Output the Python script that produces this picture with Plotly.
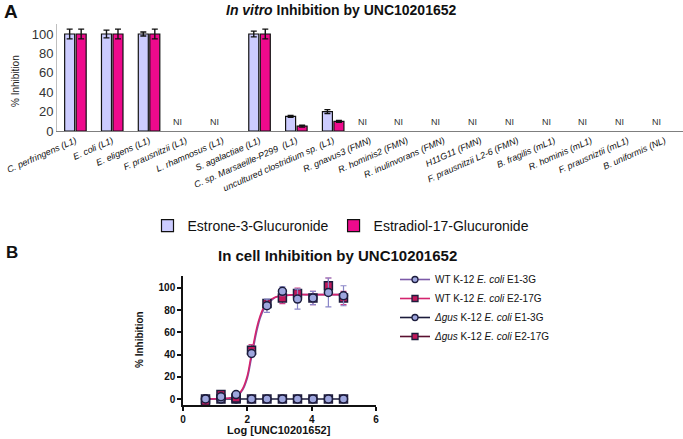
import plotly.graph_objects as go

W, H = 683, 439

# ---------------- Panel A data ----------------
categories = [
    "C. perfringens (L1)", "E. coli (L1)", "E. eligens (L1)", "F. prausnitzii (L1)",
    "L. rhamnosus (L1)", "S. agalactiae (L1)", "C. sp. Marsaeille-P299  (L1)",
    "uncultured clostridium sp. (L1)", "R. gnavus3 (FMN)", "R. hominis2 (FMN)",
    "R. inulinvorans (FMN)", "H11G11 (FMN)", "F. prausnitzii L2-6 (FMN)",
    "B. fragilis (mL1)", "R. hominis (mL1)", "F. prausniztii (mL1)", "B. uniformis (NL)",
]
estrone = [100, 100, 100, None, None, 100, 15, 20, None, None, None, None, None, None, None, None, None]
estrone_err = [5, 4, 2, 0, 0, 3, 1, 2, 0, 0, 0, 0, 0, 0, 0, 0, 0]
estradiol = [100, 100, 100, None, None, 100, 5, 10, None, None, None, None, None, None, None, None, None]
estradiol_err = [5, 5, 5, 0, 0, 5, 1, 1, 0, 0, 0, 0, 0, 0, 0, 0, 0]
ni_categories = [c for c, a, b in zip(categories, estrone, estradiol) if a is None and b is None]

# ---------------- Panel B data ----------------
log_conc = [0.70, 1.18, 1.65, 2.13, 2.61, 3.09, 3.56, 4.04, 4.52, 4.99]
wt_e1 = [0, 2, 4, 41, 84, 97, 90, 91, 96, 93]
wt_e1_err = [1, 1, 1, 3, 6, 4, 9, 6, 13, 9]
wt_e2 = [-2, 4, 1, 44, 86, 91, 95, 91, 102, 91]
wt_e2_err = [1, 1, 1, 5, 3, 5, 5, 6, 7, 6]
dgus_e1 = [0, 0, 0, 0, 0, 0, 0, 0, 0, 0]
dgus_e2 = [0, 0, 0, 0, 0, 0, 0, 0, 0, 0]

fit_x = [0.7, 1.2, 1.5, 1.7, 1.85, 2.0, 2.1, 2.2, 2.3, 2.4, 2.5, 2.6, 2.75, 2.9, 3.1, 3.5, 4.0, 5.0]
fit_wt_e1 = [0, 0.3, 1, 3, 8, 19, 33, 48, 62, 73, 80, 85, 89, 92, 93, 94, 94, 94]
fit_wt_e2 = [0, 0.4, 1.2, 3.5, 9, 21, 36, 51, 65, 75, 82, 87, 90, 92, 93, 94, 94, 94]
fit_dgus = [0, 0, 0, 0, 0, 0, 0, 0, 0, 0, 0, 0, 0, 0, 0, 0, 0, 0]

# colours
C_EST = "#ccccff"
C_ESD = "#ee0a8c"
C_PURPLE = "#7c5aa8"
C_MAG = "#d4246e"
C_CIRC = "#9ea6de"
C_SQ = "#c2185b"
C_DARK = "#1c1c3c"

fig = go.Figure()

# ---- Panel A bars ----
fig.add_trace(go.Bar(
    x=categories, y=estrone, name="Estrone-3-Glucuronide",
    marker=dict(color=C_EST, line=dict(color="#111111", width=1.2)),
    error_y=dict(type="data", array=estrone_err, color="#111111", thickness=1.4, width=3),
    xaxis="x", yaxis="y", legend="legend",
))
fig.add_trace(go.Bar(
    x=categories, y=estradiol, name="Estradiol-17-Glucuronide",
    marker=dict(color=C_ESD, line=dict(color="#111111", width=1.2)),
    error_y=dict(type="data", array=estradiol_err, color="#111111", thickness=1.4, width=3),
    xaxis="x", yaxis="y", legend="legend",
))

# ---- Panel B: fitted curves ----
for yy, col in [(fit_dgus, C_DARK), (fit_wt_e1, C_PURPLE), (fit_wt_e2, C_MAG)]:
    fig.add_trace(go.Scatter(
        x=fit_x, y=yy, mode="lines", line=dict(color=col, width=1.6, shape="spline"),
        showlegend=False, hoverinfo="skip", xaxis="x2", yaxis="y2",
    ))

# ---- Panel B: data points ----
def pts(y, err, sym, fill, errcol, name):
    e = dict(type="data", array=err, color=errcol, thickness=1.2, width=3) if err else None
    return go.Scatter(
        x=log_conc, y=y, mode="markers", name=name, showlegend=False,
        marker=dict(symbol=sym, size=8, color=fill, line=dict(color=C_DARK, width=1.5)),
        error_y=e, xaxis="x2", yaxis="y2",
    )

fig.add_trace(pts(dgus_e2, None, "square", C_SQ, None, "dgus e2"))
fig.add_trace(pts(dgus_e1, None, "circle", C_CIRC, None, "dgus e1"))
fig.add_trace(pts(wt_e2, wt_e2_err, "square", C_SQ, "#d0408a", "wt e2"))
fig.add_trace(pts(wt_e1, wt_e1_err, "circle", C_CIRC, "#8a86c8", "wt e1"))

# legend entries for panel B
leg_items = [
    ("WT K-12 <i>E. coli</i> E1-3G", "circle", C_CIRC, C_PURPLE),
    ("WT K-12 <i>E. coli</i> E2-17G", "square", C_SQ, C_MAG),
    ("<i>Δgus</i> K-12 <i>E. coli</i> E1-3G", "circle", C_CIRC, C_DARK),
    ("<i>Δgus</i> K-12 <i>E. coli</i> E2-17G", "square", C_SQ, "#5a1030"),
]
for nm, sym, fill, lc in leg_items:
    fig.add_trace(go.Scatter(
        x=[None], y=[None], mode="lines+markers", name=nm,
        line=dict(color=lc, width=1.6),
        marker=dict(symbol=sym, size=6, color=fill, line=dict(color=C_DARK, width=1.3)),
        xaxis="x2", yaxis="y2", legend="legend2",
    ))

# ---- annotations ----
ann = []
for c in ni_categories:
    ann.append(dict(x=c, y=9, xref="x", yref="y", text="NI", showarrow=False, xshift=-8,
                    font=dict(size=9, color="#333333", family="Liberation Sans")))

ann += [
    dict(x=2 / W, y=1 - 12 / H, xref="paper", yref="paper", text="<b>A</b>", showarrow=False,
         xanchor="left", yanchor="middle", font=dict(size=19, color="#111", family="Liberation Sans")),
    dict(x=341 / W, y=1 - 10 / H, xref="paper", yref="paper",
         text="<b><i>In vitro</i> Inhibition by UNC10201652</b>", showarrow=False,
         xanchor="center", yanchor="middle", font=dict(size=14, color="#111", family="Liberation Sans")),
    dict(x=15 / W, y=1 - 81 / H, xref="paper", yref="paper", text="% Inhibition", textangle=-90,
         showarrow=False, xanchor="center", yanchor="middle",
         font=dict(size=10, color="#222", family="Liberation Sans")),
    dict(x=4 / W, y=1 - 252 / H, xref="paper", yref="paper", text="<b>B</b>", showarrow=False,
         xanchor="left", yanchor="middle", font=dict(size=17, color="#111", family="Liberation Sans")),
    dict(x=337 / W, y=1 - 255 / H, xref="paper", yref="paper",
         text="<b>In cell Inhibition by UNC10201652</b>", showarrow=False,
         xanchor="center", yanchor="middle",
         font=dict(size=15, color="#111", family="Liberation Sans")),
    dict(x=139 / W, y=1 - 340 / H, xref="paper", yref="paper", text="<b>% Inhibition</b>", textangle=-90,
         showarrow=False, xanchor="center", yanchor="middle",
         font=dict(size=10, color="#111", family="Liberation Sans")),
    dict(x=279 / W, y=1 - 430 / H, xref="paper", yref="paper", text="<b>Log [UNC10201652]</b>",
         showarrow=False, xanchor="center", yanchor="middle",
         font=dict(size=11, color="#111", family="Liberation Sans")),
]

fig.update_layout(
    width=W, height=H, autosize=False,
    margin=dict(l=0, r=0, t=0, b=0, autoexpand=False),
    paper_bgcolor="white", plot_bgcolor="white",
    barmode="group", bargap=0.375, bargroupgap=0.13,
    font=dict(family="Liberation Sans", color="#222"),
    xaxis=dict(domain=[57 / W, 1.0], anchor="y", type="category", tickangle=-24, automargin=False,
               showline=True, linecolor="#7f7f7f", linewidth=1, ticks="",
               tickfont=dict(size=9, family="Liberation Sans", color="#111", style="italic"),
               showgrid=False, zeroline=False),
    yaxis=dict(domain=[1 - 131 / H, 1 - 24.3 / H], anchor="x", range=[0, 110], automargin=False,
               tickvals=[0, 20, 40, 60, 80, 100], showline=True, linecolor="#bfbfbf", linewidth=1,
               ticks="", tickfont=dict(size=13, color="#333"), showgrid=False, zeroline=False),
    xaxis2=dict(domain=[183 / W, 376 / W], anchor="y2", range=[0, 6], tickvals=[0, 2, 4, 6],
                automargin=False,
                ticktext=["<b>0</b>", "<b>2</b>", "<b>4</b>", "<b>6</b>"],
                showline=True, linecolor="#111", linewidth=1.5, ticks="outside", ticklen=4,
                tickwidth=1.5, tickcolor="#111", tickfont=dict(size=10, color="#111"),
                showgrid=False, zeroline=False),
    yaxis2=dict(domain=[1 - 405 / H, 1 - 276 / H], anchor="x2", range=[-5.4, 110.8], automargin=False,
                tickvals=[0, 20, 40, 60, 80, 100],
                ticktext=["<b>0</b>", "<b>20</b>", "<b>40</b>", "<b>60</b>", "<b>80</b>", "<b>100</b>"],
                showline=True, linecolor="#111", linewidth=1.5, ticks="outside", ticklen=4,
                tickwidth=1.5, tickcolor="#111", tickfont=dict(size=10, color="#111"),
                showgrid=False, zeroline=False),
    legend=dict(orientation="h", x=341 / W, xanchor="center", y=1 - 226 / H, yanchor="middle",
                font=dict(size=14, color="#111", family="Liberation Sans"), traceorder="normal",
                itemwidth=30, bgcolor="rgba(0,0,0,0)"),
    legend2=dict(orientation="v", x=395 / W, xanchor="left", y=1 - 265 / H, yanchor="top",
                 font=dict(size=10, color="#111", family="Liberation Sans"), tracegroupgap=0,
                 itemwidth=30, bgcolor="rgba(0,0,0,0)"),
    annotations=ann,
)

fig.write_html(
    "out.html",
    config={"displayModeBar": False},
    post_script="document.body.style.margin='0';document.body.style.overflow='hidden';",
)
